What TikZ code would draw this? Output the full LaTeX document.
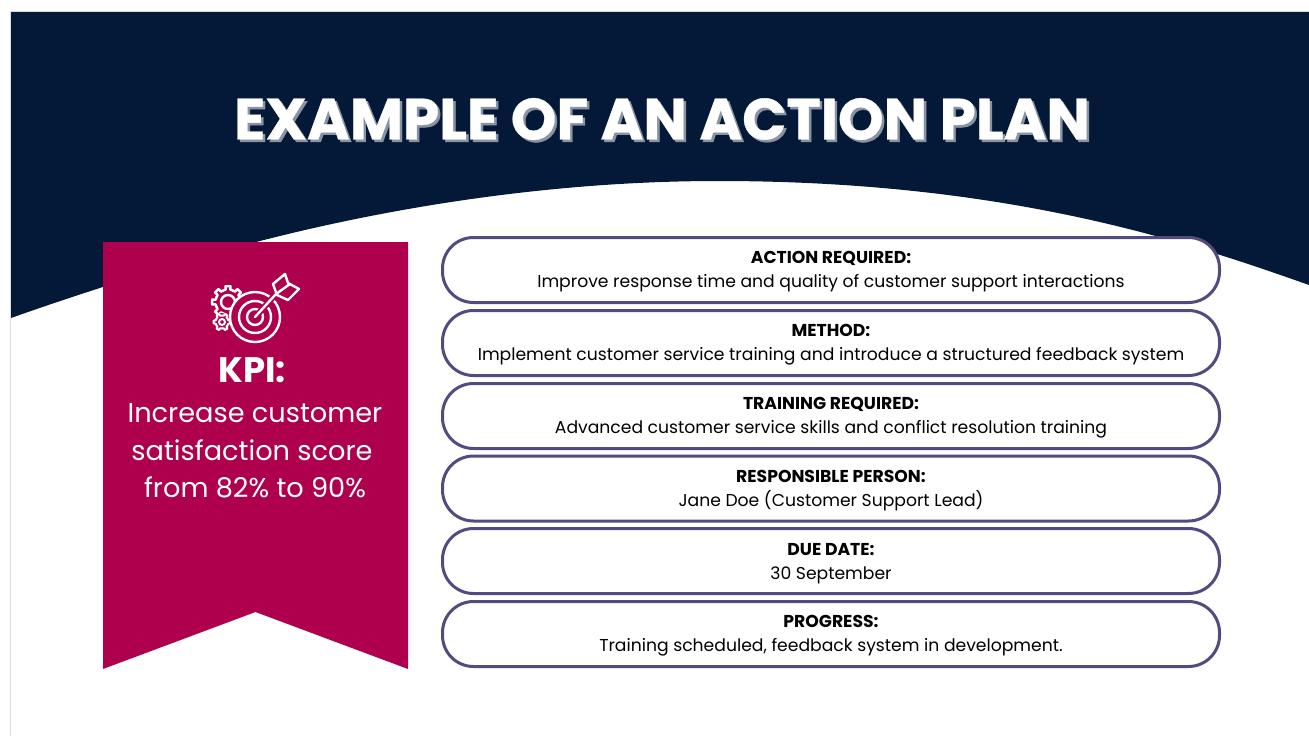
\documentclass[tikz,border=0pt]{standalone}
\usepackage{fontspec}
\setmainfont{Poppins}
\newfontfamily\titlefont[BoldFeatures={FakeBold=0.6}]{Poppins}
\definecolor{navy}{HTML}{041937}
\definecolor{crimson}{HTML}{AE004C}
\definecolor{pillline}{HTML}{534A80}
\definecolor{titleshade}{HTML}{8A93A3}
\definecolor{framegray}{HTML}{DDDDDD}
\tikzset{
  pill/.style={draw=pillline,line width=3pt,fill=white,rounded corners=31pt,minimum width=777pt,minimum height=65pt,inner sep=0pt,anchor=center},
  pilltext/.style={font=\fontsize{17.2}{24}\selectfont,text=black,align=center,inner sep=0pt},
  titletext/.style={font=\titlefont\fontsize{58.1}{60}\bfseries\selectfont,inner sep=0pt},
  kpitext/.style={text=white,align=center,inner sep=0pt},
  icon/.style={draw=white,line width=2.4pt,line join=round,line cap=round}
}
\newcommand{\pillrow}[5]{%
  \node[pill] (#1) at (831,#2) {};
  \node[pilltext] (#1t) at (831,#3) {\textbf{#4}\\[0pt]#5};
}
\begin{document}
\begin{tikzpicture}[x=1pt,y=-1pt]
\useasboundingbox (0,0) rectangle (1309,736);
\fill[white] (0,0) rectangle (1309,736);
\draw[framegray,line width=1pt] (10.5,736) -- (10.5,11.5) -- (1309,11.5);
\fill[navy] (11,12) -- (1309,12) -- (1309,285)
  .. controls (1190,243) and (1010,181) .. (718,181)
  .. controls (560,181) and (400,205) .. (260,241)
  .. controls (180,262) and (90,290) .. (11,318) -- cycle;
\node[titletext,text=titleshade] (titleshadow) at (664.5,121.5) {EXAMPLE OF AN ACTION PLAN};
\node[titletext,text=white] (title) at (662,119) {EXAMPLE OF AN ACTION PLAN};
\fill[crimson] (103,242) -- (408,242) -- (408,669) -- (255.5,612) -- (103,669) -- cycle;
% icon: gears behind a target, arrow in the bullseye
\begin{scope}[shift={(255,317)}]
  \begin{scope}[shift={(-27,-15)}]
    \foreach \a in {0,45,...,315}
      \draw[icon] (\a-22.5:12.5) -- (\a-11:12.5) -- (\a-9:16) -- (\a+9:16) -- (\a+11:12.5) -- (\a+22.5:12.5);
    \draw[icon] (0,0) circle (7);
  \end{scope}
  \begin{scope}[shift={(-33,5)}]
    \fill[crimson] (0,0) circle (9);
    \foreach \a in {0,60,...,300}
      \draw[icon,line width=2pt] (\a-30:6.5) -- (\a-14:6.5) -- (\a-10:8.5) -- (\a+10:8.5) -- (\a+14:6.5) -- (\a+30:6.5);
    \draw[icon,line width=2pt] (0,0) circle (3);
  \end{scope}
  \draw[icon,fill=crimson] (0,0) circle (25);
  \draw[icon] (0,0) circle (16);
  \draw[icon] (0,0) circle (8);
  \draw[crimson,line width=6pt] (3,-3) -- (21,-23);
  \draw[icon] (0,0) -- (21,-23);
  \draw[icon,fill=crimson] (18,-33) -- (30,-43) -- (33,-34) -- (44,-28) -- (33,-17) -- (22,-22) -- cycle;
  \draw[icon] (21,-23) -- (35,-33);
\end{scope}
\node[kpitext,font=\fontsize{35.5}{38}\bfseries\selectfont] (kpi) at (252,370) {KPI:};
\node[kpitext,font=\fontsize{27.2}{37.5}\selectfont] (kpibody) at (255,451) {Increase customer\\\hspace*{-6pt}satisfaction score\\from 82\% to 90\%};
\pillrow{p1}{270}{272}{ACTION REQUIRED:}{Improve response time and quality of customer support interactions}
\pillrow{p2}{343}{345}{METHOD:}{Implement customer service training and introduce a structured feedback system}
\pillrow{p3}{416}{418}{TRAINING REQUIRED:}{Advanced customer service skills and conflict resolution training}
\pillrow{p4}{488.5}{490.5}{RESPONSIBLE PERSON:}{Jane Doe (Customer Support Lead)}
\pillrow{p5}{561}{564}{DUE DATE:}{30 September}
\pillrow{p6}{634}{636}{PROGRESS:}{Training scheduled, feedback system in development.}
\end{tikzpicture}
\end{document}
